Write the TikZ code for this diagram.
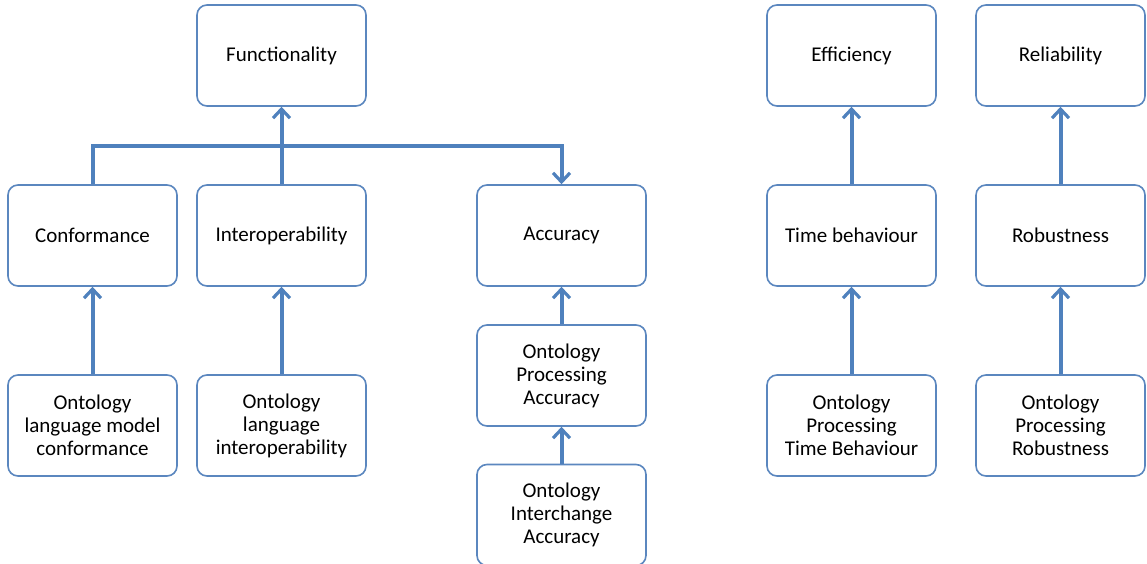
\documentclass[tikz,border=0pt]{standalone}
\usepackage{fontspec}
\setmainfont{Carlito}
\usetikzlibrary{arrows.meta}
\definecolor{boxline}{HTML}{5B87BF}
\definecolor{arrowblue}{HTML}{4F81BD}
\tikzset{
  box/.style={draw=boxline, line width=1.6pt, rounded corners=10pt, fill=white,
    minimum width=169pt, minimum height=101pt, align=center,
    font=\fontsize{21pt}{23pt}\selectfont, text=black},
  conn/.style={draw=arrowblue, line width=4pt,
    -{Straight Barb[length=9pt,width=17pt,line width=3.2pt]}}
}
\begin{document}
\begin{tikzpicture}[x=1pt,y=-1pt]
  \useasboundingbox (0,0) rectangle (1147,564);
  \fill[white] (0,0) rectangle (1147,564);

  % Functionality branch
  \node[box] (func) at (281.5,55.5) {Functionality};
  \node[box] (conf) at (92.5,235.5) {Conformance};
  \node[box] (inter) at (281.5,235.5) {Interoperability};
  \node[box] (acc) at (561.5,235.5) {Accuracy};
  \node[box] (olmc) at (92.5,425.5) {Ontology\\language model\\conformance};
  \node[box] (oli) at (281.5,425.5) {Ontology\\language\\interoperability};
  \node[box] (opa) at (561.5,375.5) {Ontology\\Processing\\Accuracy};
  \node[box] (oia) at (561.5,515) {Ontology\\Interchange\\Accuracy};

  % Efficiency branch
  \node[box] (eff) at (851.5,55.5) {Efficiency};
  \node[box] (time) at (851.5,235.5) {Time behaviour};
  \node[box] (optb) at (851.5,425.5) {Ontology\\Processing\\Time Behaviour};

  % Reliability branch
  \node[box] (rel) at (1060.5,55.5) {Reliability};
  \node[box] (rob) at (1060.5,235.5) {Robustness};
  \node[box] (opr) at (1060.5,425.5) {Ontology\\Processing\\Robustness};

  % connectors
  \draw[conn] (conf.north) -- ++(0,-38) -| (acc.north);
  \draw[conn] (inter.north) -- (func.south);
  \draw[conn] (olmc.north) -- (conf.south);
  \draw[conn] (oli.north) -- (inter.south);
  \draw[conn] (opa.north) -- (acc.south);
  \draw[conn] (oia.north) -- (opa.south);
  \draw[conn] (time.north) -- (eff.south);
  \draw[conn] (optb.north) -- (time.south);
  \draw[conn] (rob.north) -- (rel.south);
  \draw[conn] (opr.north) -- (rob.south);
\end{tikzpicture}
\end{document}
